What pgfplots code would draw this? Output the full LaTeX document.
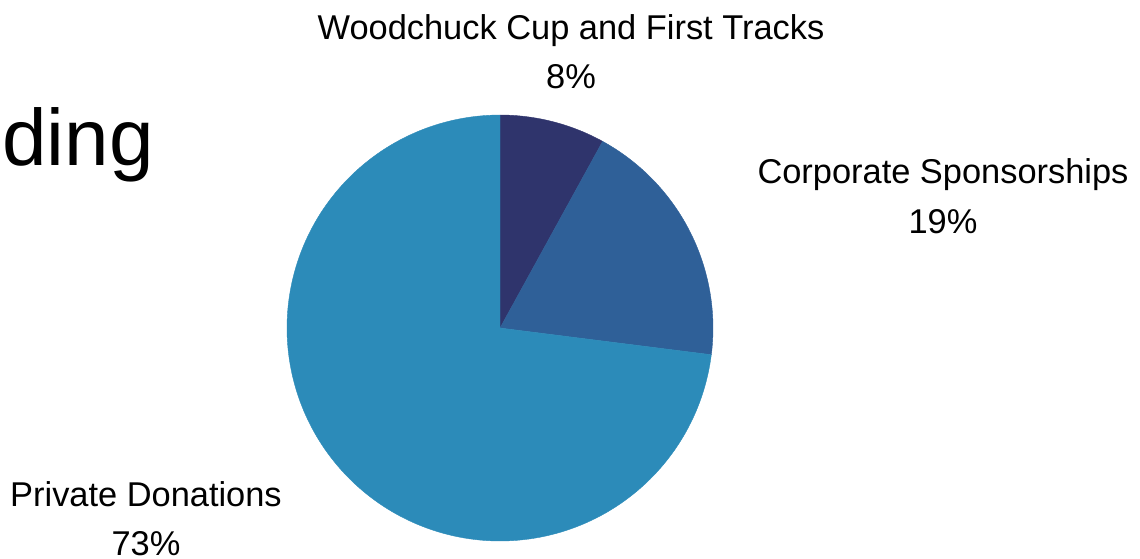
\documentclass[border=0pt]{standalone}
\usepackage{pgfplots}
\pgfplotsset{compat=1.18}
\usepackage{pgfplotstable}
\usepackage{fontspec}
\setmainfont{Liberation Sans}

\definecolor{slicea}{HTML}{2F346C}
\definecolor{sliceb}{HTML}{2F6098}
\definecolor{slicec}{HTML}{2C8BB9}

% share of funding per source, in percent
\pgfplotstableread{
label value
Woodchuck 8
Corporate 19
Private 73
}\piedata

\newcommand{\lab}{\fontsize{17.2}{20}\selectfont}

\begin{document}
\begin{tikzpicture}
\useasboundingbox (0,0) rectangle (570pt,279pt);
\clip (0,0) rectangle (570pt,279pt);
\pgfplotstablegetelem{0}{value}\of\piedata \pgfmathsetmacro{\va}{\pgfplotsretval}
\pgfplotstablegetelem{1}{value}\of\piedata \pgfmathsetmacro{\vb}{\pgfplotsretval}
\pgfplotstablegetelem{2}{value}\of\piedata \pgfmathsetmacro{\vc}{\pgfplotsretval}
\pgfmathsetmacro{\aA}{90}
\pgfmathsetmacro{\aB}{\aA-3.6*\va}
\pgfmathsetmacro{\aC}{\aB-3.6*\vb}
\pgfmathsetmacro{\aD}{\aC-3.6*\vc}
\begin{axis}[
  at={(0,0)}, anchor=south west,
  width=570pt, height=279pt, scale only axis,
  xmin=0, xmax=1140, ymin=0, ymax=558, y dir=reverse,
  hide axis, clip=false,
]
% pie wedges, clockwise from the top
\addplot[fill=slicea, draw=slicea, line width=0.2pt, domain=\aB:\aA, samples=40, variable=\t]
  ({500+213*cos(\t)},{328-213*sin(\t)}) -- (axis cs:500,328) -- cycle;
\addplot[fill=sliceb, draw=sliceb, line width=0.2pt, domain=\aC:\aB, samples=60, variable=\t]
  ({500+213*cos(\t)},{328-213*sin(\t)}) -- (axis cs:500,328) -- cycle;
\addplot[fill=slicec, draw=slicec, line width=0.2pt, domain=\aD:\aC, samples=180, variable=\t]
  ({500+213*cos(\t)},{328-213*sin(\t)}) -- (axis cs:500,328) -- cycle;

\node[anchor=base east, inner sep=0, font=\fontsize{40}{48}\selectfont] at (axis cs:154,165) {Funding};

\node[anchor=base, inner sep=0, font=\lab] at (axis cs:571,39) {Woodchuck Cup and First Tracks};
\node[anchor=base, inner sep=0, font=\lab] at (axis cs:571,88) {8\%};
\node[anchor=base, inner sep=0, font=\lab] at (axis cs:943,183) {Corporate Sponsorships};
\node[anchor=base, inner sep=0, font=\lab] at (axis cs:943,233) {19\%};
\node[anchor=base, inner sep=0, font=\lab] at (axis cs:146,506) {Private Donations};
\node[anchor=base, inner sep=0, font=\lab] at (axis cs:146,555) {73\%};
\end{axis}
\end{tikzpicture}
\end{document}
